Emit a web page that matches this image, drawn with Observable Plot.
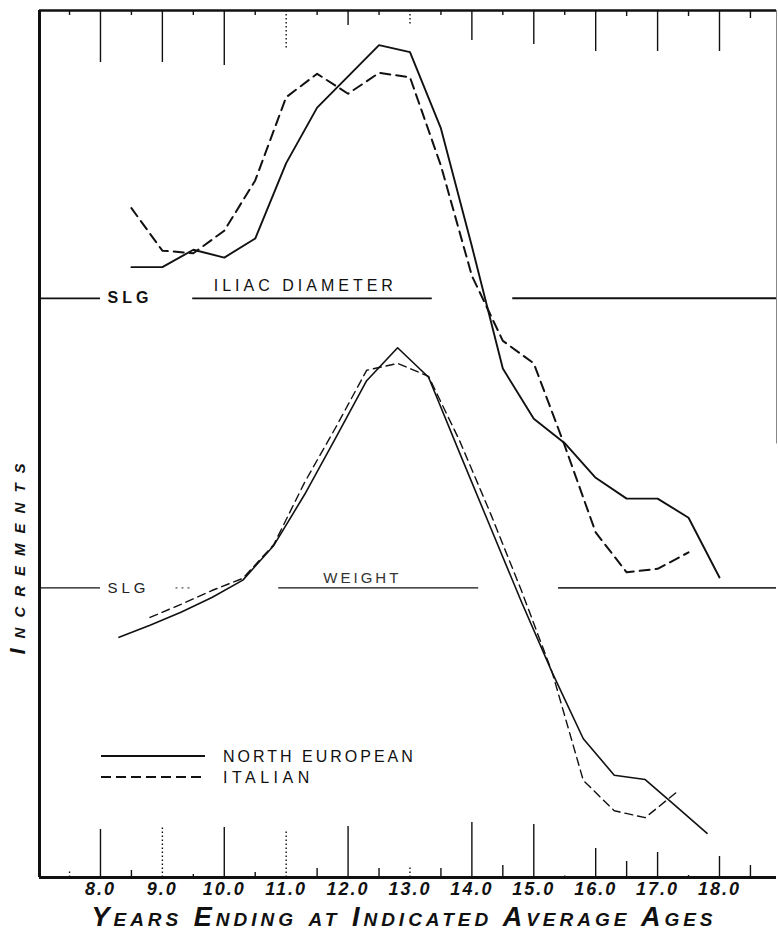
<!DOCTYPE html>
<html>
<head>
<meta charset="utf-8">
<script src="https://cdn.jsdelivr.net/npm/d3@7"></script>
<script src="https://cdn.jsdelivr.net/npm/@observablehq/plot@0.6"></script>
<style>
  html, body { margin: 0; padding: 0; background: #fff; }
  #chart svg { display: block; }
</style>
</head>
<body>
<div id="chart"></div>
<script>
// ---------------- DATA ----------------
const iliacAges = [8.5, 9.0, 9.5, 10.0, 10.5, 11.0, 11.5, 12.0, 12.5, 13.0, 13.5, 14.0, 14.5, 15.0, 15.5, 16.0, 16.5, 17.0, 17.5, 18.0];
const iliacNorthEuropean = [70.4, 70.4, 72.4, 71.5, 73.7, 82.4, 88.8, 92.4, 96.0, 95.2, 86.4, 72.8, 58.7, 52.9, 50.1, 46.1, 43.7, 43.7, 41.5, 34.6];
const iliacItalian = [77.2, 72.3, 72.0, 74.6, 80.4, 90.0, 92.7, 90.4, 92.8, 92.3, 82.1, 69.4, 61.9, 59.3, 49.8, 39.8, 35.2, 35.6, 37.5, null];

const weightAges = [8.3, 8.8, 9.3, 9.8, 10.3, 10.8, 11.3, 11.8, 12.3, 12.8, 13.3, 13.8, 14.3, 14.8, 15.3, 15.8, 16.3, 16.8, 17.3, 17.8];
const weightNorthEuropean = [27.7, 29.1, 30.6, 32.3, 34.3, 38.3, 44.2, 50.7, 57.3, 61.1, 57.7, 49.0, 40.4, 31.8, 23.6, 16.0, 11.8, 11.3, 8.2, 5.1];
const weightItalian = [null, 30.0, 31.5, 33.1, 34.5, 38.4, 45.6, 51.9, 58.5, 59.3, 57.8, 50.4, 42.0, 33.1, 23.6, 11.2, 7.7, 6.9, 9.8, null];

const iliacSLG = 66.8;   // SLG reference level, iliac diameter panel
const weightSLG = 33.4;  // SLG reference level, weight panel

const tickAges = [8, 9, 10, 11, 12, 13, 14, 15, 16, 17, 18];
const tickLabels = ["8.0", "9.0", "10.0", "11.0", "12.0", "13.0", "14.0", "15.0", "16.0", "17.0", "18.0"];
const gridAges = [7.5, 8, 8.5, 9, 9.5, 10, 10.5, 11, 11.5, 12, 12.5, 13, 13.5, 14, 14.5, 15, 15.5, 16, 16.5, 17, 17.5, 18, 18.5];
const seriesNames = ["NORTH EUROPEAN", "ITALIAN"];

// ---------------- STYLE ----------------
const FONT = "'Liberation Sans', Arial, sans-serif";
const INK = "#111";
const xMin = 7.015, xMax = 18.921;
const pxU = 100 / 867; // y units per pixel of frame height
const topTickLen = {7.5:5, 8:52, 8.5:5, 9:52, 9.5:5, 10:55, 10.5:5, 11:40, 11.5:5, 12:15, 12.5:5, 13:15, 13.5:5, 14:30, 14.5:5, 15:34, 15.5:5, 16:41, 16.5:6, 17:41, 17.5:6, 18:41, 18.5:8};
const bottomTickLen = {7.5:8, 8:48, 8.5:7, 9:52, 9.5:3, 10:50, 10.5:5, 11:47, 11.5:9, 12:51, 12.5:9, 13:12, 13.5:9, 14:55, 14.5:12, 15:53, 15.5:3, 16:29, 16.5:16, 17:25, 17.5:2, 18:21, 18.5:12};
const dottedTop = new Set([11, 13]);
const dottedBottom = new Set([7.5, 9, 11, 13, 15.5]);

function rows(ages, values) {
  return ages.map((age, i) => ({age, value: values[i]})).filter(d => d.value != null);
}

function legendMark(index, scales, values, dims) {
  const left = dims.marginLeft;
  const bottom = dims.height - dims.marginBottom;
  const g = d3.create("svg:g");
  const offs = [121, 100];
  const dashes = [null, "10,5"];
  const spacing = [3, 4.5];
  seriesNames.forEach((name, i) => {
    const y = bottom - offs[i];
    const line = g.append("line")
      .attr("x1", left + 62).attr("x2", left + 166)
      .attr("y1", y).attr("y2", y)
      .attr("stroke", INK).attr("stroke-width", 1.8);
    if (dashes[i]) line.attr("stroke-dasharray", dashes[i]);
    g.append("text")
      .attr("x", left + 184).attr("y", y)
      .attr("dy", "0.36em")
      .attr("text-anchor", "start")
      .attr("font-family", FONT).attr("font-size", 16)
      .attr("letter-spacing", spacing[i])
      .attr("fill", INK)
      .text(name);
  });
  return g.node();
}

const chart = Plot.plot({
  width: 778,
  height: 931,
  marginTop: 10,
  marginBottom: 54,
  marginLeft: 39,
  marginRight: 2,
  x: {domain: [xMin, xMax], axis: null},
  y: {domain: [0, 100], axis: null},
  style: {background: "#fff", fontFamily: FONT},
  marks: [
    // frame
    Plot.ruleX([xMin], {stroke: INK, strokeWidth: 3}),
    Plot.ruleX([xMax], {y1: 50, y2: 100, stroke: "#888", strokeWidth: 1}),
    Plot.ruleY([100], {stroke: INK, strokeWidth: 2.5}),
    Plot.ruleY([0], {stroke: INK, strokeWidth: 3}),

    // top ticks
    Plot.ruleX(gridAges.filter(d => !dottedTop.has(d)), {x: d => d, y1: 100, y2: d => 100 - topTickLen[d] * pxU, stroke: INK, strokeWidth: 1.4}),
    Plot.ruleX(gridAges.filter(d => dottedTop.has(d)), {x: d => d, y1: 100, y2: d => 100 - topTickLen[d] * pxU, stroke: INK, strokeWidth: 1.4, strokeDasharray: "1.5,2.5"}),
    // bottom ticks
    Plot.ruleX(gridAges.filter(d => !dottedBottom.has(d)), {x: d => d, y1: 0, y2: d => bottomTickLen[d] * pxU, stroke: INK, strokeWidth: 1.4}),
    Plot.ruleX(gridAges.filter(d => dottedBottom.has(d)), {x: d => d, y1: 0, y2: d => bottomTickLen[d] * pxU, stroke: INK, strokeWidth: 1.4, strokeDasharray: "1.5,2.5"}),

    // SLG reference lines (broken around labels and curves)
    Plot.ruleY([iliacSLG], {x1: xMin, x2: 8.0, stroke: INK, strokeWidth: 1.6}),
    Plot.ruleY([iliacSLG], {x1: 9.49, x2: 13.36, stroke: INK, strokeWidth: 1.6}),
    Plot.ruleY([iliacSLG], {x1: 14.66, x2: xMax, stroke: INK, strokeWidth: 2}),
    Plot.ruleY([weightSLG], {x1: xMin, x2: 8.0, stroke: INK, strokeWidth: 1.3}),
    Plot.ruleY([weightSLG], {x1: 9.22, x2: 9.45, stroke: "#555", strokeWidth: 1.2, strokeDasharray: "2,4"}),
    Plot.ruleY([weightSLG], {x1: 10.88, x2: 14.11, stroke: INK, strokeWidth: 1.3}),
    Plot.ruleY([weightSLG], {x1: 15.4, x2: xMax, stroke: "#333", strokeWidth: 1.6}),

    // panel labels
    Plot.text(["SLG"], {x: 8.0, y: iliacSLG, dx: 7, textAnchor: "start", fontSize: 16, fontWeight: "bold", fill: INK}),
    Plot.text(["ILIAC DIAMETER"], {x: 9.83, y: iliacSLG, dy: -12, textAnchor: "start", fontSize: 16, fill: INK}),
    Plot.text(["SLG"], {x: 8.0, y: weightSLG, dx: 7, textAnchor: "start", fontSize: 15, fill: "#222"}),
    Plot.text(["WEIGHT"], {x: 11.6, y: weightSLG, dy: -10, textAnchor: "start", fontSize: 15, fill: "#333"}),

    // curves
    Plot.line(rows(iliacAges, iliacNorthEuropean), {x: "age", y: "value", stroke: INK, strokeWidth: 1.9}),
    Plot.line(rows(iliacAges, iliacItalian), {x: "age", y: "value", stroke: INK, strokeWidth: 2, strokeDasharray: "10,6"}),
    Plot.line(rows(weightAges, weightNorthEuropean), {x: "age", y: "value", stroke: INK, strokeWidth: 1.6}),
    Plot.line(rows(weightAges, weightItalian), {x: "age", y: "value", stroke: INK, strokeWidth: 1.4, strokeDasharray: "8,5"}),

    // legend
    legendMark,

    // tick labels
    Plot.text(tickAges, {x: d => d, frameAnchor: "bottom", dy: 17, text: (d, i) => tickLabels[i], fontSize: 18, fontWeight: "bold", fontStyle: "italic", fill: INK}),

    // axis titles
    Plot.text(["Years Ending at Indicated Average Ages"], {frameAnchor: "bottom", textAnchor: "middle", dx: -4, dy: 48, lineAnchor: "bottom", fontSize: 27, fontWeight: "bold", fontStyle: "italic", fontVariant: "small-caps", fill: INK}),
    Plot.text(["Increments"], {frameAnchor: "left", textAnchor: "middle", rotate: -90, dx: -22, dy: 110, fontSize: 22, fontWeight: "bold", fontStyle: "italic", fontVariant: "small-caps", fill: INK})
  ]
});

// letter-spacing for the hand-lettered texts
const spacing = {
  "SLG": 4, "ILIAC DIAMETER": 4, "WEIGHT": 3,
  "Years Ending at Indicated Average Ages": 4, "Increments": 10
};
tickLabels.forEach(t => spacing[t] = 2);
d3.select(chart).selectAll("text").each(function () {
  const t = this.textContent;
  if (spacing[t] != null && !this.hasAttribute("letter-spacing")) this.setAttribute("letter-spacing", spacing[t]);
});

document.getElementById("chart").appendChild(chart);
</script>
</body>
</html>
